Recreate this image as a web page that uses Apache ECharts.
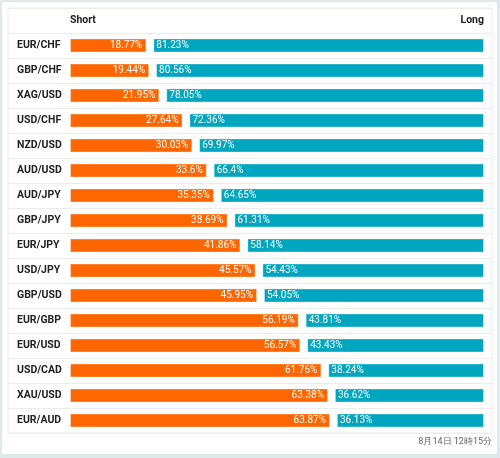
<!DOCTYPE html>
<html>
<head>
<meta charset="utf-8">
<script src="https://cdn.jsdelivr.net/npm/echarts@6/dist/echarts.min.js"></script>
<style>
html,body{margin:0;padding:0;background:#dfe9eb;width:500px;height:458px;overflow:hidden;}
#chart{position:absolute;left:2px;top:2px;width:495px;height:452px;background:#fff;}
</style>
</head>
<body>
<div id="chart"></div>
<script>
const pairs = ['EUR/CHF','GBP/CHF','XAG/USD','USD/CHF','NZD/USD','AUD/USD','AUD/JPY','GBP/JPY','EUR/JPY','USD/JPY','GBP/USD','EUR/GBP','EUR/USD','USD/CAD','XAU/USD','EUR/AUD'];
const shortPct = [18.77,19.44,21.95,27.64,30.03,33.6,35.35,38.69,41.86,45.57,45.95,56.19,56.57,61.76,63.38,63.87];
const longPct  = [81.23,80.56,78.05,72.36,69.97,66.4,64.65,61.31,58.14,54.43,54.05,43.81,43.43,38.24,36.62,36.13];
const headerShort = 'Short';
const headerLong = 'Long';
const timestamp = '8月14日 12時15分';

const GAP = 1.7;
const cats = [''].concat(pairs);
const shortData = [null].concat(shortPct);
const longData = [null].concat(longPct);
const gapData = [null].concat(pairs.map(() => GAP));

const chart = echarts.init(document.getElementById('chart'), null, {renderer: 'canvas'});
const FONT = 'Roboto, "Noto Sans", sans-serif';
chart.setOption({
  animation: false,
  textStyle: {fontFamily: FONT},
  grid: {left: 6, right: 5, top: 6, height: 425, show: true, borderColor: '#ececec', borderWidth: 1, containLabel: false},
  xAxis: {type: 'value', min: -15.23, max: 103.67, show: false},
  yAxis: {
    type: 'category', data: cats, inverse: true,
    axisLine: {show: false}, axisTick: {show: false},
    axisLabel: {inside: true, margin: 9, color: '#222', fontWeight: 'bold', fontSize: 10.5, fontFamily: FONT},
    splitLine: {show: true, lineStyle: {color: '#ececec', width: 1}}
  },
  series: [
    {name: 'Short', type: 'bar', stack: 'a', data: shortData, barWidth: 14,
     itemStyle: {color: '#ff6600', borderColor: 'rgba(255,255,255,0.35)', borderWidth: 1},
     label: {show: true, position: 'insideRight', distance: 4, color: '#fff', fontSize: 10, fontFamily: FONT, formatter: p => p.value + '%'}},
    {name: 'gap', type: 'bar', stack: 'a', data: gapData, barWidth: 14, itemStyle: {color: 'transparent'}, silent: true},
    {name: 'Long', type: 'bar', stack: 'a', data: longData, barWidth: 14,
     itemStyle: {color: '#00a5bf', borderColor: 'rgba(255,255,255,0.35)', borderWidth: 1},
     label: {show: true, position: 'insideLeft', distance: 3, color: '#fff', fontSize: 10, fontFamily: FONT, formatter: p => p.value + '%'}}
  ],
  graphic: [
    {type: 'text', left: 68, top: 13, style: {text: headerShort, fontWeight: 'bold', fontSize: 10.5, fill: '#222', fontFamily: FONT}},
    {type: 'text', right: 13, top: 13, style: {text: headerLong, fontWeight: 'bold', fontSize: 10.5, fill: '#222', fontFamily: FONT}},
    {type: 'text', right: 5, top: 435, style: {text: timestamp, fontSize: 9, fill: '#666', fontFamily: FONT}}
  ]
});
</script>
</body>
</html>
